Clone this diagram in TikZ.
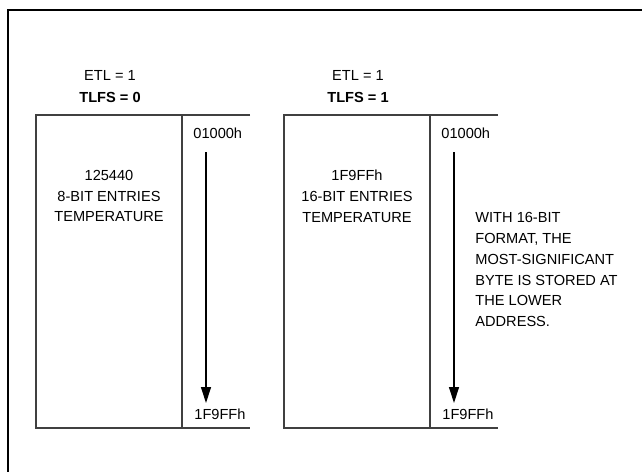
\documentclass[tikz,border=0pt]{standalone}
\usepackage{fontspec}
\setmainfont{Liberation Sans}
\usetikzlibrary{arrows.meta}

\begin{document}
\begin{tikzpicture}[x=0.5pt, y=-0.5pt, >={Triangle[length=8pt, width=5pt]}]
  % Page size in pixel units (1px = 0.5pt, y going down)
  \useasboundingbox (0,0) rectangle (642,472);

  \tikzset{
    lbl/.style={font=\fontsize{7.3}{10.4}\selectfont, inner sep=0pt},
    memline/.style={draw=black!75, line width=0.6pt},
    addrarrow/.style={black, line width=0.6pt, ->}
  }

  % ==========================================
  % 1. OUTER FRAME (top and left edge only)
  % ==========================================
  \draw[black, line width=1pt] (642,10) -- (8,10) -- (8,472);

  % ==========================================
  % 2. THE TWO MEMORY MAPS
  % ==========================================
  \foreach \xo/\nm/\tlfs/\cnt/\bits in {0/L/0/125440/8, 248/R/1/1F9FFh/16} {
    \begin{scope}[xshift=\xo*0.5pt]
      % header
      \node[lbl] (etl\nm) at (110,75) {ETL = 1};
      \node[lbl, font=\fontsize{7.3}{10.4}\selectfont\bfseries] (tlfs\nm) at (110,97) {TLFS = \tlfs};

      % memory block outline, open on the right
      \draw[memline] (250,115) -- (36,115) -- (36,428) -- (250,428);
      \draw[memline] (182,115) -- (182,428);

      % contents
      \node[lbl, align=center] (cont\nm) at (109,196)
        {\cnt\\\bits-BIT ENTRIES\\TEMPERATURE};

      % start and end address
      \node[lbl, anchor=west] (start\nm) at (193,133) {01000h};
      \node[lbl, anchor=west] (end\nm) at (194,414) {1F9FFh};
      \coordinate (top\nm) at (206,152);
      \coordinate (tip\nm) at (206,403);
      \draw[addrarrow] (top\nm) -- (tip\nm);
    \end{scope}
  }

  % ==========================================
  % 3. NOTE BESIDE THE 16-BIT MAP
  % ==========================================
  \node[lbl, align=left, anchor=north west] (note) at (475,212)
    {WITH 16-BIT\\FORMAT, THE\\MOST-SIGNIFICANT\\BYTE IS STORED AT\\THE LOWER\\ADDRESS.};

\end{tikzpicture}
\end{document}
